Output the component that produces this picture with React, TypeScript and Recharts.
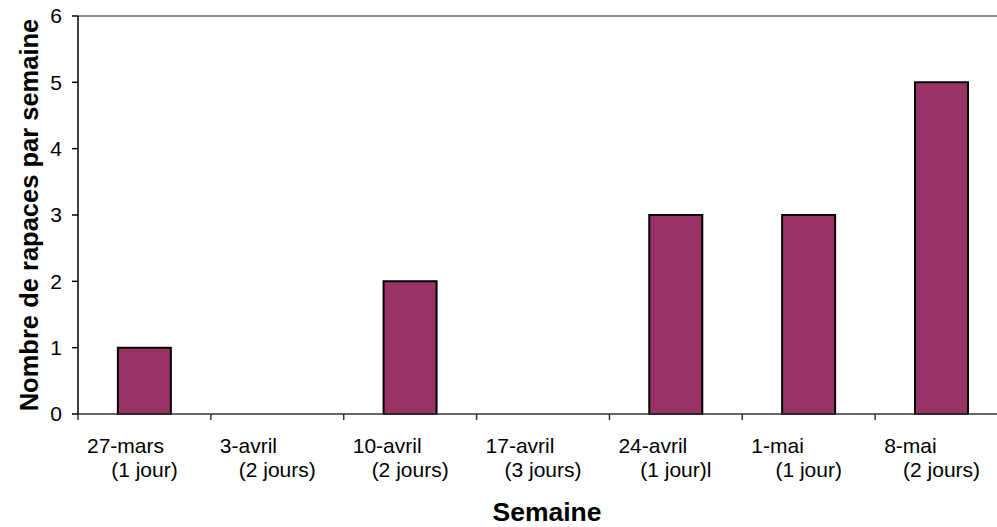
import { BarChart, Bar, XAxis, YAxis, ReferenceLine } from 'recharts';

const weeks = ['27-mars', '3-avril', '10-avril', '17-avril', '24-avril', '1-mai', '8-mai'];
const durations = ['(1 jour)', '(2 jours)', '(2 jours)', '(3 jours)', '(1 jour)l', '(1 jour)', '(2 jours)'];
const raptors = [1, 0, 2, 0, 3, 3, 5];
const yTicks = [0, 1, 2, 3, 4, 5, 6];

const FONT = '"Liberation Sans", Arial, sans-serif';
const BAR_COLOR = '#993366';
const CHART_W = 1008;
const CHART_H = 527;

const data = weeks.map((w, i) => ({ week: w, duration: durations[i], value: raptors[i] }));

// two-line category label, with tick mark at the category's left edge
function WeekTick(props: any) {
  const { x, y, payload, index } = props;
  const half = payload?.offset ?? 66.4;
  const left = x - half;
  const isLast = index === weeks.length - 1;
  return (
    <g>
      <line x1={left} y1={y} x2={left} y2={y + 6} stroke="#333" strokeWidth={1.5} />
      {isLast && <line x1={x + half} y1={y} x2={x + half} y2={y + 6} stroke="#333" strokeWidth={1.5} />}
      <text x={left + 9} y={y + 39} textAnchor="start" fontSize={21} fontFamily={FONT} fill="#000">
        {payload.value}
      </text>
      <text x={x} y={y + 63} textAnchor="middle" fontSize={21} fontFamily={FONT} fill="#000">
        {durations[index]}
      </text>
    </g>
  );
}

export default function App() {
  return (
    <div style={{ position: 'absolute', left: 0, top: 0, width: 997, height: 527, overflow: 'hidden', background: '#fff' }}>
      <BarChart
        width={CHART_W}
        height={CHART_H}
        data={data}
        margin={{ top: 16, right: 0, left: 0, bottom: 0 }}
        barCategoryGap="30%"
      >
        <ReferenceLine y={6} stroke="#8c8c8c" strokeWidth={2} />
        <XAxis
          dataKey="week"
          height={113}
          tickLine={false}
          tickSize={0}
          tickMargin={0}
          axisLine={{ stroke: '#333', strokeWidth: 1.5 }}
          interval={0}
          tick={<WeekTick />}
          label={{
            value: 'Semaine',
            content: (p: any) => {
              const vb = p.viewBox;
              return (
                <text x={vb.x + vb.width / 2 + 4} y={vb.y + 107} textAnchor="middle" fontSize={26.5} fontWeight="bold" fontFamily={FONT} fill="#000">
                  Semaine
                </text>
              );
            },
          }}
        />
        <YAxis
          width={78}
          domain={[0, 6]}
          ticks={yTicks}
          interval={0}
          tickSize={6}
          tickMargin={10}
          axisLine={{ stroke: '#000', strokeWidth: 1.5 }}
          tickLine={{ stroke: '#000', strokeWidth: 1.5 }}
          tick={{ fontSize: 21, fontFamily: FONT, fill: '#000' }}
          label={{
            value: 'Nombre de rapaces par semaine',
            content: (p: any) => {
              const vb = p.viewBox;
              const cx = vb.x + 29;
              const cy = vb.y + vb.height / 2;
              return (
                <text x={cx} y={cy} transform={`rotate(-90 ${cx} ${cy})`} textAnchor="middle" dominantBaseline="central" fontSize={25.5} fontWeight="bold" fontFamily={FONT} fill="#000">
                  Nombre de rapaces par semaine
                </text>
              );
            },
          }}
        />
        <Bar dataKey="value" fill={BAR_COLOR} stroke="#000" strokeWidth={2} isAnimationActive={false} />
      </BarChart>
    </div>
  );
}
